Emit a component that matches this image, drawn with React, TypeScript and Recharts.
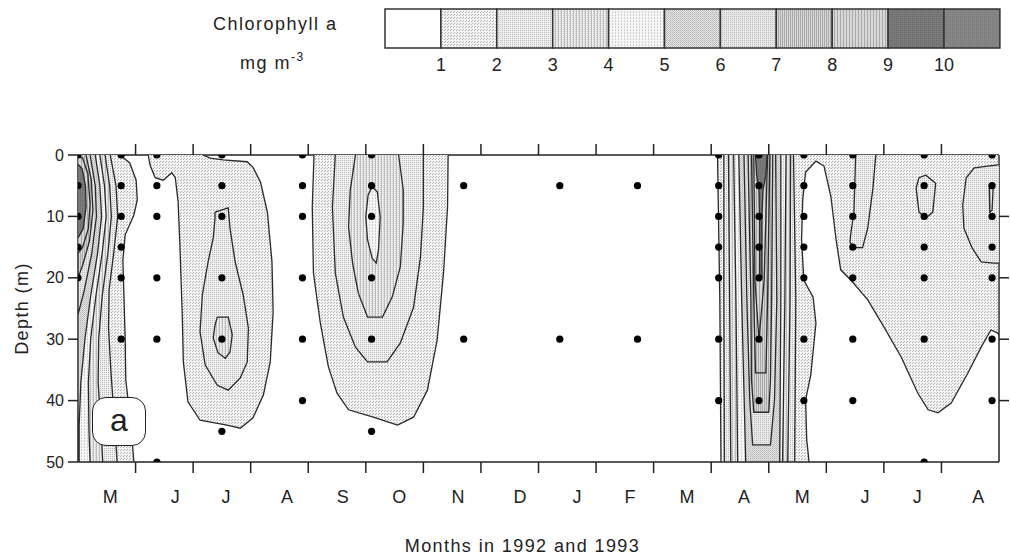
import React from 'react'
import { ScatterChart, Scatter, XAxis, YAxis } from 'recharts'

const FONT = '"Liberation Sans", Arial, Helvetica, sans-serif'

// axis labels
const monthLabels = ['M', 'J', 'J', 'A', 'S', 'O', 'N', 'D', 'J', 'F', 'M', 'A', 'M', 'J', 'J', 'A']
const monthLabelPos = [0.56, 1.69, 2.57, 3.63, 4.6, 5.58, 6.6, 7.68, 8.67, 9.59, 10.58, 11.57, 12.58, 13.67, 14.58, 15.64]
const monthTicks = [1, 2, 3, 4, 5, 6, 7, 8, 9, 10, 11, 12, 13, 14, 15]
const depthTicks = [0, 10, 20, 30, 40, 50]
const legendLevels = [1, 2, 3, 4, 5, 6, 7, 8, 9, 10]

// sampling stations: month (from start of axis) and sampled depths
const stationMonths = [0, 0.75, 1.37, 2.5, 3.9, 5.1, 6.7, 8.37, 9.72, 11.13, 11.83, 12.61, 13.46, 14.7, 15.88]
const stationDepths = [
  [0, 5, 10, 15, 20],
  [0, 5, 10, 15, 20, 30],
  [0, 5, 10, 20, 30, 50],
  [0, 5, 10, 20, 30, 45],
  [0, 5, 10, 20, 30, 40],
  [0, 5, 10, 20, 30, 45],
  [5, 30],
  [5, 30],
  [5, 30],
  [0, 5, 10, 15, 20, 30, 40],
  [0, 5, 10, 15, 20, 30, 40],
  [0, 5, 10, 15, 20, 30, 40],
  [0, 5, 10, 15, 20, 30, 40],
  [0, 5, 10, 15, 20, 30, 50],
  [0, 5, 10, 15, 20, 30, 40],
]

// contour lines, [month, depth]
const mayC1 = [[0.73, 0], [0.9, 1.3], [1.01, 4.1], [1.03, 7.3], [0.97, 9.8], [0.82, 13], [0.78, 17.1], [0.8, 23.6], [0.82, 30.1], [0.83, 36.6], [0.87, 39.9], [0.94, 46.4], [0.97, 50], [0, 50], [0, 0]]
const mayC2 = [[0.56, 0], [0.66, 5], [0.69, 10], [0.62, 16], [0.54, 22], [0.53, 28], [0.57, 35], [0.63, 43], [0.68, 50], [0, 50], [0, 0]]
const mayC3 = [[0.47, 0], [0.55, 5], [0.58, 10], [0.52, 16], [0.42, 23], [0.36, 30], [0.35, 37], [0.4, 44.8], [0.43, 50], [0, 50], [0, 0]]
const mayC4 = [[0.38, 0], [0.46, 5], [0.49, 10], [0.42, 16], [0.31, 23], [0.22, 30], [0.18, 37], [0.19, 44.8], [0.21, 50], [0, 50], [0, 0]]
const mayC5 = [[0.3, 0], [0.38, 5], [0.41, 10], [0.34, 16], [0.22, 23], [0.12, 30], [0.05, 37], [0.02, 44], [0.02, 50], [0, 50], [0, 0]]
const mayC6 = [[0.21, 0], [0.3, 5], [0.32, 10], [0.24, 16], [0.11, 22], [0, 26], [0, 0]]
const mayC7 = [[0.14, 0], [0.23, 4], [0.26, 9], [0.2, 14], [0.08, 18], [0, 20], [0, 0]]
const mayC8 = [[0, 0.3], [0.08, 0.5], [0.17, 3], [0.21, 8], [0.18, 12], [0.08, 15], [0, 16]]
const mayC9 = [[0, 1.5], [0.07, 2.2], [0.13, 5], [0.14, 8.5], [0.09, 12], [0, 13.5]]

const junC1 = [[1.22, 0], [1.25, 1.6], [1.34, 3.7], [1.48, 4.1], [1.63, 2.9], [1.69, 3.7], [1.74, 7.7], [1.77, 14.7], [1.81, 25.6], [1.83, 33.7], [1.91, 40.2], [2.12, 43.2], [2.35, 43.6], [2.59, 44], [2.82, 44.5], [3.04, 42.8], [3.22, 39.1], [3.34, 33.7], [3.39, 25.6], [3.37, 17.4], [3.29, 9.3], [3.17, 4.4], [3.04, 2], [2.94, 1.1], [2.52, 0.8], [2.3, 0.5], [2.17, 0]]
const junC2 = [[2.38, 9.3], [2.61, 8.6], [2.64, 11.9], [2.73, 17.4], [2.87, 22.8], [2.96, 28.2], [2.94, 33.7], [2.82, 36.3], [2.61, 38.3], [2.42, 37.5], [2.21, 34.2], [2.12, 28.8], [2.16, 22.8], [2.26, 17.4], [2.35, 13.5], [2.38, 10.3], [2.38, 9.3]]
const junC3 = [[2.42, 26.4], [2.61, 26.4], [2.68, 29.3], [2.64, 32.1], [2.56, 33.1], [2.43, 32.2], [2.35, 29.8], [2.38, 27.7], [2.42, 26.4]]

const sepC1 = [[4.1, 0], [4.07, 8.5], [4.09, 19.2], [4.21, 27.4], [4.35, 34.5], [4.5, 38.8], [4.7, 41.5], [5.13, 42.7], [5.55, 44], [5.83, 42.7], [6.07, 38.3], [6.24, 30.1], [6.35, 19.2], [6.42, 8.5], [6.43, 0]]
const sepC2 = [[4.47, 0], [4.42, 8.5], [4.47, 19.2], [4.61, 26.4], [4.82, 31.3], [5.03, 33.7], [5.37, 33.7], [5.6, 30.6], [5.83, 24.8], [5.95, 16.6], [6, 8.5], [6, 0]]
const sepC3 = [[4.82, 0], [4.73, 5.7], [4.7, 11.7], [4.77, 17.6], [4.87, 22.5], [5.03, 26.4], [5.29, 26.4], [5.46, 23.1], [5.6, 18.2], [5.65, 11.1], [5.65, 5.7], [5.57, 0]]
const sepC4 = [[5.11, 5.2], [5.2, 6], [5.25, 10.1], [5.22, 15.5], [5.18, 17.6], [5.11, 16.8], [5.03, 13.8], [5, 10.1], [5.04, 6.5], [5.11, 5.2]]

const aprC1 = [[11.11, 0], [11.15, 23.6], [11.17, 50], [12.7, 50], [12.66, 46.4], [12.64, 39.9], [12.73, 35.8], [12.82, 27.4], [12.77, 23.1], [12.61, 20.4], [12.57, 13.8], [12.59, 7.3], [12.64, 2.8], [12.82, 1], [12.96, 1.8], [13.08, 6.8], [13.17, 13.8], [13.25, 18.7], [13.43, 20.4], [13.72, 23.6], [14, 28], [14.3, 32.9], [14.59, 38.8], [14.77, 41.5], [14.94, 42], [15.17, 40.4], [15.46, 35.5], [15.69, 31.3], [15.86, 28.5], [15.98, 29], [16, 29.3], [16, 0]]
const aprC2 = [[11.22, 0], [11.22, 23.6], [11.23, 50], [12.45, 50], [12.47, 23.6], [12.43, 0]]
const aprC3 = [[11.3, 0], [11.32, 23.6], [11.34, 50], [12.33, 50], [12.37, 23.6], [12.38, 0]]
const aprC4 = [[11.39, 0], [11.43, 23.6], [11.46, 50], [12.24, 50], [12.28, 23.6], [12.3, 0]]
const aprC5 = [[11.48, 0], [11.53, 23.6], [11.6, 50], [12.19, 50], [12.21, 23.6], [12.21, 0]]
const aprC6 = [[11.57, 0], [11.62, 23.6], [11.67, 39.9], [11.72, 47.2], [12.03, 47.2], [12.1, 39.9], [12.14, 23.6], [12.12, 0]]
const aprC7 = [[11.64, 0], [11.69, 23.6], [11.7, 36.6], [11.74, 41.9], [12, 41.9], [12.03, 36.6], [12.05, 23.6], [12.07, 0]]
const aprC8 = [[11.7, 0], [11.74, 23.6], [11.77, 35.5], [11.95, 35.5], [11.98, 23.6], [12.02, 0]]
const aprC9 = [[11.74, 0], [11.76, 20.4], [11.83, 30.1], [11.92, 20.4], [11.98, 0]]
const aprC10 = [[11.77, 0], [11.79, 3.3], [11.83, 5.7], [11.84, 10.6], [11.84, 19.9], [11.88, 19.9], [11.88, 10.6], [11.9, 5.7], [11.95, 3.3], [11.97, 0]]

const sumC2a = [[13.51, 0], [13.48, 9.3], [13.43, 12.5], [13.41, 14.2], [13.48, 15.1], [13.63, 15.1], [13.72, 11.9], [13.81, 5.4], [13.86, 0]]
const sumC2b = [[14.61, 3.7], [14.73, 3.3], [14.9, 4.6], [14.85, 9.3], [14.73, 10.3], [14.61, 9.3], [14.56, 5.4], [14.61, 3.7]]
const sumC2c = [[16, 1.6], [15.98, 1.6], [15.57, 2.1], [15.43, 3.7], [15.37, 8.1], [15.39, 11.9], [15.53, 15.1], [15.69, 17.4], [15.91, 17.6], [16, 17.6]]
const sumC3 = [[15.83, 4.9], [15.9, 4.9], [15.88, 9], [15.84, 9.3], [15.83, 4.9]]

const contours = [
  { level: 1, pts: mayC1 }, { level: 2, pts: mayC2 }, { level: 3, pts: mayC3 },
  { level: 4, pts: mayC4 }, { level: 5, pts: mayC5 }, { level: 6, pts: mayC6 },
  { level: 7, pts: mayC7 }, { level: 8, pts: mayC8 }, { level: 9, pts: mayC9 },
  { level: 1, pts: junC1 }, { level: 2, pts: junC2 }, { level: 3, pts: junC3 },
  { level: 1, pts: sepC1 }, { level: 2, pts: sepC2 }, { level: 3, pts: sepC3 }, { level: 4, pts: sepC4 },
  { level: 1, pts: aprC1 }, { level: 2, pts: aprC2 }, { level: 3, pts: aprC3 },
  { level: 4, pts: aprC4 }, { level: 5, pts: aprC5 }, { level: 6, pts: aprC6 },
  { level: 7, pts: aprC7 }, { level: 7, pts: aprC8 }, { level: 8, pts: aprC9 }, { level: 9, pts: aprC10 },
  { level: 2, pts: sumC2a }, { level: 2, pts: sumC2b }, { level: 2, pts: sumC2c }, { level: 3, pts: sumC3 },
]

const levelFill = ['url(#chl1)', 'url(#chl2)', 'url(#chl3)', 'url(#chl4)', 'url(#chl5)', 'url(#chl6)', 'url(#chl7)', 'url(#chl8)', 'url(#chl9)', 'url(#chl10)']
const axisStyle = { stroke: '#222', strokeWidth: 1.5 }
const blank = () => ''

const noDot = () => <g />
const stationDot = (p: any) => <circle cx={p.cx} cy={p.cy} r={3.6} fill="#000" />

function Patterns() {
  return (
    <defs>
      <pattern id="chl1" width="3" height="3" patternUnits="userSpaceOnUse">
        <rect width="3" height="3" fill="#f4f4f4" />
        <rect x="0" y="0" width="1" height="1" fill="#b0b0b0" />
        <rect x="1" y="2" width="1" height="1" fill="#b0b0b0" />
      </pattern>
      <pattern id="chl2" width="2" height="2" patternUnits="userSpaceOnUse">
        <rect width="2" height="2" fill="#f0f0f0" />
        <rect x="0" y="0" width="1" height="1" fill="#b8b8b8" />
      </pattern>
      <pattern id="chl3" width="3" height="2" patternUnits="userSpaceOnUse">
        <rect width="3" height="2" fill="#eeeeee" />
        <rect x="0" y="0" width="1" height="2" fill="#bdbdbd" />
        <rect x="2" y="1" width="1" height="1" fill="#cfcfcf" />
      </pattern>
      <pattern id="chl4" width="3" height="3" patternUnits="userSpaceOnUse">
        <rect width="3" height="3" fill="#f6f6f6" />
        <rect x="0" y="0" width="1" height="1" fill="#c8c8c8" />
        <rect x="0" y="2" width="1" height="1" fill="#d4d4d4" />
      </pattern>
      <pattern id="chl5" width="2" height="2" patternUnits="userSpaceOnUse">
        <rect width="2" height="2" fill="#e4e4e4" />
        <rect x="0" y="0" width="1" height="1" fill="#b4b4b4" />
        <rect x="1" y="1" width="1" height="1" fill="#c8c8c8" />
      </pattern>
      <pattern id="chl6" width="2" height="2" patternUnits="userSpaceOnUse">
        <rect width="2" height="2" fill="#e8e8e8" />
        <rect x="0" y="0" width="1" height="1" fill="#bcbcbc" />
      </pattern>
      <pattern id="chl7" width="2" height="1" patternUnits="userSpaceOnUse">
        <rect width="2" height="1" fill="#d8d8d8" />
        <rect x="0" y="0" width="1" height="1" fill="#a8a8a8" />
      </pattern>
      <pattern id="chl8" width="3" height="2" patternUnits="userSpaceOnUse">
        <rect width="3" height="2" fill="#d8d8d8" />
        <rect x="0" y="0" width="1" height="2" fill="#a8a8a8" />
      </pattern>
      <pattern id="chl9" width="2" height="2" patternUnits="userSpaceOnUse">
        <rect width="2" height="2" fill="#7a7a7a" />
        <rect x="0" y="0" width="1" height="1" fill="#6a6a6a" />
      </pattern>
      <pattern id="chl10" width="2" height="2" patternUnits="userSpaceOnUse">
        <rect width="2" height="2" fill="#808080" />
        <rect x="1" y="1" width="1" height="1" fill="#8e8e8e" />
      </pattern>
    </defs>
  )
}

function ScaleLegend() {
  const x0 = 385
  const cw = 55.9
  const cells = ['#fff', ...levelFill]
  return (
    <svg width={1010} height={90} style={{ position: 'absolute', left: 0, top: 0 }}>
      <Patterns />
      <text x={213} y={30} fontSize={18} letterSpacing={1.5} fill="#222" fontFamily={FONT}>Chlorophyll a</text>
      <text x={240} y={69} fontSize={18} letterSpacing={1.5} fill="#222" fontFamily={FONT}>
        mg m<tspan dy={-8} fontSize={12}>-3</tspan>
      </text>
      {cells.map((f, i) => (
        <rect key={i} x={x0 + i * cw} y={9} width={cw} height={39} fill={f} stroke="#333" strokeWidth={1.5} />
      ))}
      {legendLevels.map((lv, i) => (
        <text key={lv} x={x0 + (i + 1) * cw} y={71} fontSize={18} textAnchor="middle" fill="#222" fontFamily={FONT}>{lv}</text>
      ))}
    </svg>
  )
}

export default function App() {
  const layers = contours.slice().sort((a, b) => a.level - b.level)
  const stations = stationMonths.flatMap((m, i) => stationDepths[i].map((d) => ({ m, d })))

  return (
    <div style={{ position: 'absolute', left: 0, top: 0, width: 1010, height: 560, background: '#fff' }}>
      <ScaleLegend />
      <ScatterChart width={1010} height={560} margin={{ top: 143, right: 0, bottom: 0, left: 0 }}
        style={{ position: 'absolute', left: 0, top: 0 }}>
        <XAxis xAxisId="top" orientation="top" type="number" dataKey="m" domain={[0, 16]} allowDataOverflow
          ticks={monthTicks} interval={0} tickFormatter={blank} tickSize={11} height={12}
          axisLine={axisStyle} tickLine={axisStyle} />
        <XAxis type="number" dataKey="m" domain={[0, 16]} allowDataOverflow
          ticks={monthTicks} interval={0} tickFormatter={blank} tickSize={11} height={12}
          axisLine={axisStyle} tickLine={axisStyle} />
        <XAxis xAxisId="lab" type="number" dataKey="m" domain={[0, 16]} allowDataOverflow
          ticks={monthLabelPos} interval={0} tickFormatter={(v: number, i: number) => monthLabels[i]}
          axisLine={false} tickLine={false} tickSize={0} tickMargin={16} height={86}
          tick={{ fontSize: 18, fill: '#222', fontFamily: FONT }}
          label={{ value: 'Months in 1992 and 1993', position: 'insideBottom', offset: 8, dx: -16,
            style: { fontSize: 18, letterSpacing: 1.4, fill: '#222', fontFamily: FONT } }} />
        <YAxis type="number" dataKey="d" domain={[0, 50]} reversed allowDataOverflow
          ticks={depthTicks} interval={0} width={78} tickSize={10} tickMargin={4}
          tick={{ fontSize: 16, fill: '#222', fontFamily: FONT }}
          axisLine={axisStyle} tickLine={axisStyle}
          label={{ value: 'Depth (m)', angle: -90, position: 'insideLeft', offset: 22,
            style: { textAnchor: 'middle', fontSize: 18, letterSpacing: 1.4, fill: '#222', fontFamily: FONT } }} />
        <YAxis yAxisId="r" orientation="right" type="number" dataKey="d" domain={[0, 50]} reversed allowDataOverflow
          ticks={depthTicks.slice(1, 5)} interval={0} width={11} tickSize={10} tickFormatter={blank}
          axisLine={axisStyle} tickLine={axisStyle} />

        {layers.map((c, i) => (
          <Scatter key={i} data={c.pts.map(([m, d]) => ({ m, d }))}
            line={{ fill: levelFill[c.level - 1], stroke: '#2a2a2a', strokeWidth: 1.3 }}
            lineJointType="linear" shape={noDot} isAnimationActive={false} />
        ))}
        <Scatter data={stations} shape={stationDot} isAnimationActive={false} />
      </ScatterChart>
      <div style={{
        position: 'absolute', left: 92, top: 397, width: 52, height: 47, border: '1.5px solid #222',
        borderRadius: 14, background: '#fff', display: 'flex', alignItems: 'center', justifyContent: 'center',
        fontFamily: FONT, fontSize: 32, color: '#222', lineHeight: 1,
      }}>
        <span style={{ marginTop: -4 }}>a</span>
      </div>
    </div>
  )
}
